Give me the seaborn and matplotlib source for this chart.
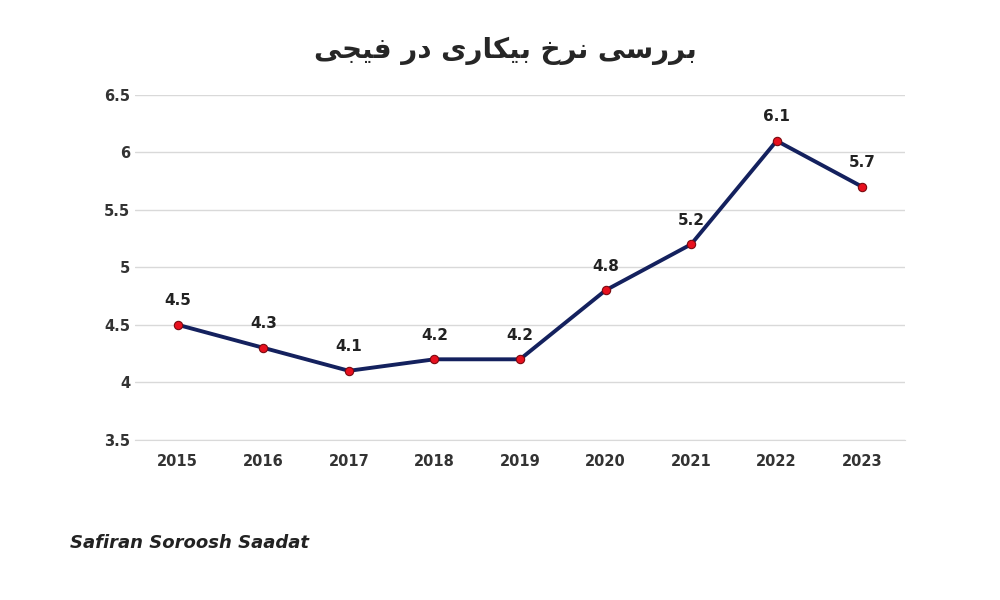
import matplotlib
matplotlib.use("Agg")
import matplotlib.pyplot as plt
import seaborn as sns
import pandas as pd

years = ["2015", "2016", "2017", "2018", "2019", "2020", "2021", "2022", "2023"]
rates = [4.5, 4.3, 4.1, 4.2, 4.2, 4.8, 5.2, 6.1, 5.7]
y_ticks = [3.5, 4, 4.5, 5, 5.5, 6, 6.5]
y_tick_labels = ["3.5", "4", "4.5", "5", "5.5", "6", "6.5"]

# "بررسی نرخ بیکاری در فیجی" in shaped presentation forms, visual order
title = ("\uFBFD\uFEA0\uFBFF\uFED3 \uFEAD\uFEA9 "
         "\uFBFC\uFEAD\uFE8E\uFB91\uFBFF\uFE91 \uFEA5\uFEAE\uFEE7 "
         "\uFBFD\uFEB3\uFEAD\uFEAE\uFE91")

sns.set_style("white")
plt.rcParams["font.family"] = ["DejaVu Sans", "Noto Sans"]

df = pd.DataFrame({"year": years, "rate": rates})

fig = plt.figure(figsize=(10, 6), dpi=100)
ax = fig.add_axes([0.135, 0.267, 0.77, 0.575])

sns.lineplot(data=df, x="year", y="rate", ax=ax, color="#14215e", linewidth=2.8,
             marker="o", markersize=6, markerfacecolor="#e8101e",
             markeredgecolor="#7a0a10", markeredgewidth=0.8, sort=False)

for i, v in enumerate(rates):
    ax.annotate(f"{v:g}", (i, v), xytext=(0, 12), textcoords="offset points",
                ha="center", va="bottom", fontsize=11, fontweight="bold", color="#222222")

ax.set_ylim(3.5, 6.5)
ax.set_xlim(-0.5, len(years) - 0.5)
ax.set_yticks(y_ticks)
ax.set_yticklabels(y_tick_labels)
ax.grid(axis="y", color="#d9d9d9", linewidth=1)
ax.set_axisbelow(True)
for s in ["top", "right", "left"]:
    ax.spines[s].set_visible(False)
ax.spines["bottom"].set_color("#d9d9d9")
ax.tick_params(axis="both", length=0, labelsize=10.5)
for lbl in ax.get_xticklabels() + ax.get_yticklabels():
    lbl.set_fontweight("bold")
    lbl.set_color("#333333")
ax.tick_params(axis="x", pad=10)
ax.set_xlabel("")
ax.set_ylabel("")

fig.text(0.505, 0.915, title, ha="center", va="center", fontsize=20, fontweight="bold")
fig.text(0.07, 0.095, "Safiran Soroosh Saadat", ha="left", va="center",
         fontsize=13, fontweight="bold", fontstyle="italic", color="#222222")

fig.savefig("out.png", dpi=100, facecolor="white")
